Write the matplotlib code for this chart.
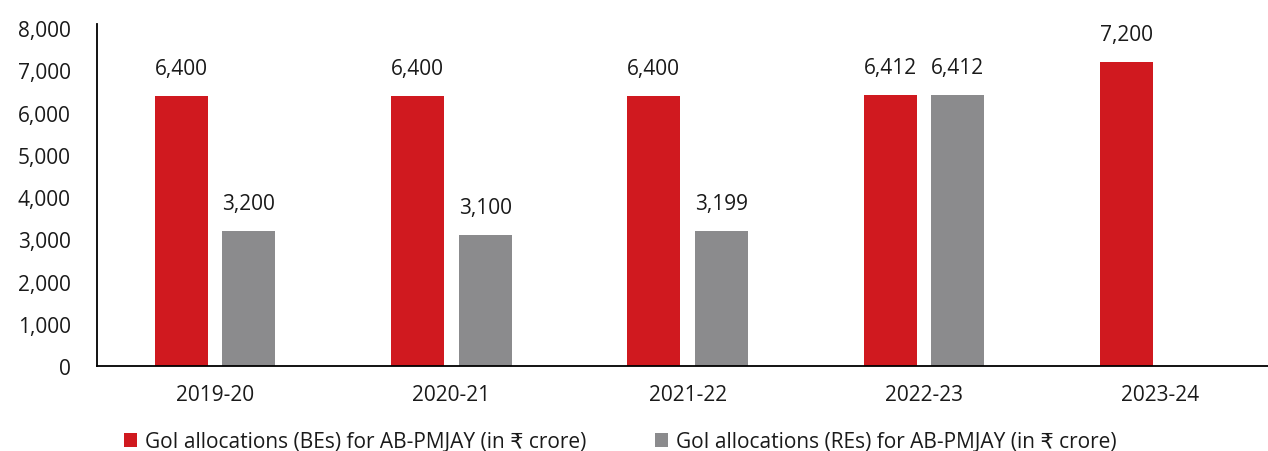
import matplotlib.pyplot as plt
import numpy as np

plt.rcParams['font.family'] = ['Open Sans', 'DejaVu Sans']

years = ["2019-20", "2020-21", "2021-22", "2022-23", "2023-24"]
be_values = [6400, 6400, 6400, 6412, 7200]
re_values = [3200, 3100, 3199, 6412, np.nan]
be_label = "GoI allocations (BEs) for AB-PMJAY (in \u20b9 crore)"
re_label = "GoI allocations (REs) for AB-PMJAY (in \u20b9 crore)"

red = "#D0191F"
grey = "#8B8B8D"
txt = "#1a1a1a"
fs = 15

fig = plt.figure(figsize=(12.68, 4.52), dpi=100)
ax = fig.add_axes([97/1268, 1-367/452, 1-97/1268, (367-25)/452])

x = np.arange(len(years))
w = 0.225
off = 0.143
b1 = ax.bar(x - off, be_values, w, color=red, label=be_label)
b2 = ax.bar(x + off, re_values, w, color=grey, label=re_label)

for bars, vals in ((b1, be_values), (b2, re_values)):
    for rect, v in zip(bars, vals):
        if np.isnan(v):
            continue
        ax.annotate(f"{v:,.0f}", (rect.get_x() + rect.get_width()/2, v),
                    xytext=(0, 12), textcoords="offset points",
                    ha="center", va="bottom", fontsize=fs, color=txt)

ax.set_xlim(-0.4994, 4.456)
ax.set_ylim(0, 8095)
ax.set_yticks(np.arange(0, 8001, 1000))
ax.set_yticklabels([f"{t:,}" for t in range(0, 8001, 1000)])
ax.set_xticks(x)
ax.set_xticklabels(years)
ax.tick_params(axis="y", length=0, pad=19, labelsize=fs, labelcolor=txt)
ax.tick_params(axis="x", length=0, pad=13, labelsize=fs, labelcolor=txt)
for s in ("top", "right"):
    ax.spines[s].set_visible(False)
ax.spines["left"].set_linewidth(1.3)
ax.spines["bottom"].set_linewidth(1.3)

fig.legend(handles=[b1, b2], loc="center", bbox_to_anchor=(0.489, 1-443/452),
           ncol=2, frameon=False, fontsize=fs, handlelength=0.65,
           handleheight=0.65, handletextpad=0.35, columnspacing=3.3,
           labelcolor=txt)

fig.savefig("out.png", dpi=100)
